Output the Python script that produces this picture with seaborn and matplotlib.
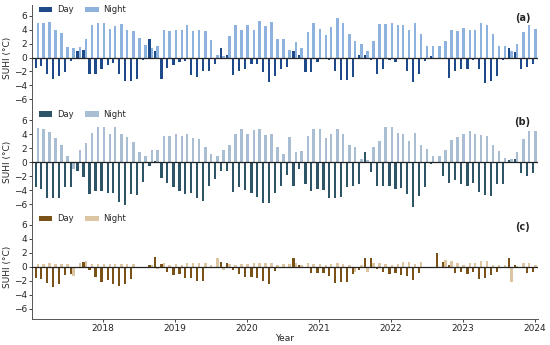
import pandas as pd
import seaborn as sns
import matplotlib.pyplot as plt
import matplotlib.dates as mdates

# monthly SUHI values, Jan 2017 - Dec 2023
months = pd.date_range('2017-01-31', periods=84, freq='ME')

day_a = [-1.5, -1.2, -2.3, -3.1, -2.6, -2.1, -0.5, 1.0, 1.1, -2.4, -2.3, -1.7,
         -1.1, -0.8, -2.4, -3.3, -3.4, -3.1, -0.4, 2.7, 0.9, -3.1, -1.5, -1.1,
         -0.7, -0.5, -2.5, -2.8, -1.9, -1.9, -1.0, 1.4, 0.4, -2.5, -1.9, -1.7,
         -0.9, -0.9, -2.1, -3.5, -2.6, -1.6, -1.3, 1.0, 0.4, -2.1, -2.1, -0.7,
         -0.1, -0.3, -2.0, -3.2, -3.2, -2.8, 0.3, 0.3, -0.4, -2.4, -1.6, -0.3,
         -0.7, 0.0, -1.9, -3.5, -2.4, -0.5, 0.2, 0.0, -0.1, -3.0, -2.0, -1.7,
         -1.6, -0.3, -1.7, -3.6, -3.4, -2.6, -0.4, 1.4, 0.8, -1.6, -1.3, -0.9]
night_a = [5.0, 4.9, 5.1, 3.9, 3.5, 1.5, 1.4, 1.5, 2.7, 4.7, 5.0, 4.9,
           4.1, 4.5, 4.8, 3.9, 3.8, 2.8, 1.8, 1.4, 1.7, 4.0, 3.8, 4.0,
           3.9, 4.6, 3.8, 3.9, 3.85, 2.5, 0.4, 0.2, 3.1, 4.7, 4.0, 4.7,
           3.9, 5.2, 4.5, 5.1, 2.6, 2.7, 1.1, 2.2, 1.4, 3.7, 4.9, 4.1,
           3.2, 4.4, 5.6, 4.9, 3.3, 2.3, 1.9, 1.0, 2.3, 4.8, 4.8, 5.0,
           4.6, 4.7, 4.0, 5.0, 3.4, 1.7, 1.7, 1.7, 2.4, 4.0, 3.8, 4.2,
           4.0, 4.0, 5.0, 4.6, 3.4, 1.7, 1.7, 1.0, 1.9, 3.6, 4.6, 4.1]

day_b = [-3.6, -3.9, -5.2, -5.2, -5.2, -3.6, -3.5, -1.3, -2.1, -4.6, -4.2, -4.2,
         -4.4, -4.4, -5.7, -6.2, -4.6, -4.7, -2.9, -0.6, 0.2, -2.3, -3.0, -3.6,
         -4.2, -4.5, -4.4, -5.2, -5.6, -3.4, -2.4, -1.3, -1.3, -4.3, -3.6, -4.0,
         -4.4, -5.0, -5.8, -5.9, -4.4, -3.4, -1.9, -3.4, -1.0, -3.1, -4.1, -3.8,
         -4.0, -5.1, -5.1, -5.0, -3.5, -3.4, -3.2, 1.4, -1.4, -3.4, -3.4, -3.4,
         -3.8, -3.7, -4.6, -6.5, -4.9, -3.6, -0.2, 0.0, -2.0, -3.0, -2.5, -3.1,
         -3.4, -3.0, -4.3, -4.7, -4.9, -3.2, -3.2, 0.3, 0.5, -1.6, -2.0, -1.6]
night_b = [4.95, 4.7, 4.3, 3.5, 2.5, 0.9, -1.0, 1.7, 2.8, 4.2, 5.0, 5.1,
           4.0, 5.0, 4.0, 3.6, 2.9, 1.4, 0.9, 1.8, 1.8, 3.8, 3.8, 4.1,
           3.7, 4.1, 3.5, 3.3, 2.2, 1.2, 0.9, 1.7, 2.4, 4.1, 4.8, 4.1,
           4.6, 4.8, 3.9, 4.0, 2.2, 1.2, 3.6, 1.5, 1.6, 3.8, 4.8, 4.8,
           3.4, 4.1, 4.7, 4.0, 2.5, 2.1, 0.5, 0.3, 2.2, 3.1, 5.0, 5.0,
           4.2, 4.0, 3.0, 4.2, 2.5, 1.9, 0.9, 0.9, 1.8, 3.2, 3.6, 4.1,
           4.5, 4.1, 3.9, 3.8, 2.5, 1.6, 0.6, 0.4, 1.5, 3.3, 4.5, 4.5]

day_c = [-1.6, -1.8, -2.3, -2.9, -2.4, -1.2, -1.1, -0.1, 0.7, -0.5, -1.5, -2.2,
         -1.9, -2.4, -2.7, -2.5, -1.8, 0.0, 0.0, 0.2, 1.4, 0.4, -0.8, -1.2,
         -1.0, -1.6, -1.6, -2.0, -2.0, 0.0, 0.0, 0.7, 0.5, -0.5, -1.1, -1.4,
         -1.4, -1.6, -2.0, -2.5, -0.6, -0.2, -0.1, 1.2, 0.2, -0.1, -0.9, -0.9,
         -0.9, -1.3, -2.3, -2.2, -2.2, -1.1, -0.4, 1.2, 1.2, -0.3, -0.8, -1.0,
         -0.9, -1.2, -1.3, -1.9, -0.9, -0.2, 0.0, 2.0, 0.7, 0.2, -0.9, -0.7,
         -1.0, -0.8, -1.7, -1.6, -1.2, -0.7, 0.0, 1.2, 0.3, -0.1, -0.9, -0.8]
night_c = [0.4, 0.4, 0.5, 0.4, 0.4, 0.4, -1.3, 0.6, 0.8, 0.4, 0.4, 0.4,
           0.4, 0.4, 0.4, 0.4, 0.4, 0.0, 0.0, 0.3, -0.3, 0.6, 0.3, 0.4,
           0.3, 0.5, 0.5, 0.5, 0.5, 0.3, 1.2, -0.5, 0.4, 0.2, 0.4, 0.4,
           0.5, 0.5, 0.6, 0.6, 0.3, 0.4, 0.4, 0.6, 0.3, 0.6, 0.4, 0.4,
           0.3, 0.4, 0.5, 0.4, 0.3, -0.7, 0.3, -0.8, 0.5, 0.6, 0.4, 0.3,
           0.4, 0.7, 0.7, 0.4, 0.7, 0.0, 0.0, 0.0, 1.0, 0.8, 0.5, 0.3,
           0.5, 0.6, 0.8, 0.8, 0.2, 0.3, 0.3, -2.2, 0.1, 0.6, 0.6, 0.2]

panels = [
    ('(a)', day_a, night_a, ['#1f4a8a', '#8db2de']),
    ('(b)', day_b, night_b, ['#2e5468', '#a9bdd3']),
    ('(c)', day_c, night_c, ['#7a5218', '#dcc5a2']),
]

sns.set_theme(style='ticks')
plt.rcParams['font.family'] = ['DejaVu Sans']

fig, axes = plt.subplots(3, 1, figsize=(5.5, 3.45), dpi=100, sharex=True)
fig.subplots_adjust(left=0.058, right=0.978, top=0.985, bottom=0.075, hspace=0)

t = mdates.date2num(months)

for ax, (tag, day, night, colors) in zip(axes, panels):
    df = pd.DataFrame({
        't': list(t) * 2,
        'SUHI': day + night,
        'kind': ['Day'] * len(day) + ['Night'] * len(night),
    })
    sns.barplot(data=df, x='t', y='SUHI', hue='kind', native_scale=True,
                palette=colors, errorbar=None, width=0.8, linewidth=0,
                saturation=1, ax=ax)
    ax.axhline(0, color='#222222', lw=0.9, zorder=3)
    ax.set_ylim(-7.5, 7.5)
    ax.set_yticks([-6, -4, -2, 0, 2, 4, 6])
    ax.set_yticklabels(['\u22126', '\u22124', '\u22122', '0', '2', '4', '6'])
    ax.set_ylabel('SUHI (°C)', fontsize=6.5, labelpad=1)
    ax.tick_params(axis='y', labelsize=6.5, length=2.5, width=0.6, pad=1)
    ax.text(0.985, 0.93, tag, transform=ax.transAxes, ha='right', va='top',
            fontsize=7, fontweight='bold')
    handles, labels = ax.get_legend_handles_labels()
    ax.legend(handles, labels, loc='upper left', ncol=2, frameon=False,
              fontsize=6, handlelength=1.6, handleheight=0.6, handletextpad=0.6,
              columnspacing=1.4, borderaxespad=0.1, bbox_to_anchor=(0.005, 1.04))
    sns.despine(ax=ax, top=True, right=True, bottom=(ax is not axes[-1]))
    for s in ax.spines.values():
        s.set_linewidth(0.7)
        s.set_color('#555555')

ax = axes[-1]
ax.xaxis.set_major_locator(mdates.YearLocator())
ax.xaxis.set_major_formatter(mdates.DateFormatter('%Y'))
ax.set_xlim(mdates.date2num(pd.Timestamp('2017-01-06')),
            mdates.date2num(pd.Timestamp('2024-01-18')))
ax.set_xlabel('Year', fontsize=6.5, labelpad=0.5)
ax.tick_params(axis='x', labelsize=6.5, length=2.5, width=0.6, pad=1)
for a in axes[:-1]:
    a.tick_params(axis='x', bottom=False, labelbottom=False)

plt.savefig('out.png', dpi=100)
plt.close()
